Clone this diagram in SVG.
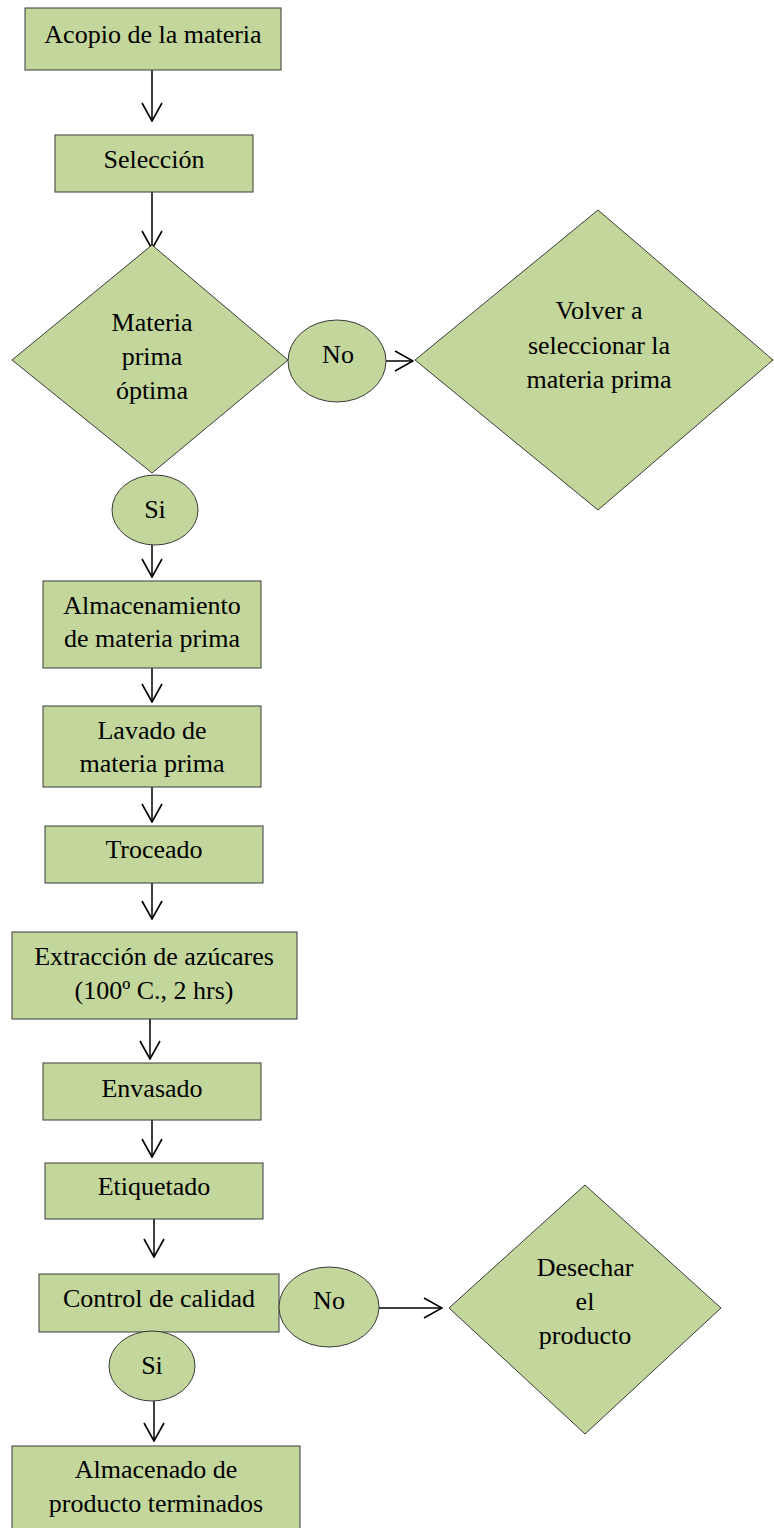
<svg xmlns="http://www.w3.org/2000/svg" width="774" height="1528" viewBox="0 0 774 1528">
<defs>
<style>
.n{fill:#C3D69B;stroke:#3a3a3a;stroke-width:1}
.t{font-family:'Liberation Serif','DejaVu Serif',serif;font-size:26px;fill:#000;text-anchor:middle}
.c{stroke:#000;stroke-width:1.5;fill:none}
</style>
<marker id="ah" viewBox="0 0 20 22" refX="19" refY="11" markerWidth="20" markerHeight="22" markerUnits="userSpaceOnUse" orient="auto">
<path d="M1,1 L19,11 L1,21" fill="none" stroke="#000" stroke-width="1.6"/>
</marker>
</defs>
<rect width="774" height="1528" fill="#fff"/>
<g id="connectors">
<line class="c" x1="152" y1="70" x2="152" y2="121" marker-end="url(#ah)"/>
<line class="c" x1="152" y1="192" x2="152" y2="249" marker-end="url(#ah)"/>
<line class="c" x1="386" y1="361" x2="413" y2="361" marker-end="url(#ah)"/>
<line class="c" x1="152" y1="545" x2="152" y2="577" marker-end="url(#ah)"/>
<line class="c" x1="152" y1="668" x2="152" y2="702" marker-end="url(#ah)"/>
<line class="c" x1="152" y1="787" x2="152" y2="822" marker-end="url(#ah)"/>
<line class="c" x1="152" y1="883" x2="152" y2="919" marker-end="url(#ah)"/>
<line class="c" x1="150" y1="1019" x2="150" y2="1059" marker-end="url(#ah)"/>
<line class="c" x1="152" y1="1120" x2="152" y2="1157" marker-end="url(#ah)"/>
<line class="c" x1="154" y1="1219" x2="154" y2="1257" marker-end="url(#ah)"/>
<line class="c" x1="379" y1="1308" x2="442" y2="1308" marker-end="url(#ah)"/>
<line class="c" x1="154" y1="1401" x2="154" y2="1441" marker-end="url(#ah)"/>
</g>
<g id="acopio">
<rect class="n" x="25" y="8" width="256" height="62"/>
<text class="t" x="153" y="43">Acopio de la materia</text>
</g>
<g id="seleccion">
<rect class="n" x="55" y="135" width="198" height="57"/>
<text class="t" x="154" y="168">Selección</text>
</g>
<g id="materia-optima">
<polygon class="n" points="152,245 288,360 152,473 12,360"/>
<text class="t" x="152" y="331">Materia</text>
<text class="t" x="152" y="365">prima</text>
<text class="t" x="152" y="399">óptima</text>
</g>
<g id="no1">
<ellipse class="n" cx="337" cy="361" rx="49" ry="41"/>
<text class="t" x="338" y="363">No</text>
</g>
<g id="volver">
<polygon class="n" points="598,210 773,360 598,510 415,360"/>
<text class="t" x="599" y="319">Volver a</text>
<text class="t" x="599" y="354">seleccionar la</text>
<text class="t" x="599" y="388">materia prima</text>
</g>
<g id="si1">
<ellipse class="n" cx="155" cy="510" rx="43" ry="35"/>
<text class="t" x="155" y="518">Si</text>
</g>
<g id="almacenamiento">
<rect class="n" x="43" y="581" width="218" height="87"/>
<text class="t" x="152" y="614">Almacenamiento</text>
<text class="t" x="152" y="647">de materia prima</text>
</g>
<g id="lavado">
<rect class="n" x="43" y="706" width="218" height="81"/>
<text class="t" x="152" y="739">Lavado de</text>
<text class="t" x="152" y="772">materia prima</text>
</g>
<g id="troceado">
<rect class="n" x="45" y="826" width="218" height="57"/>
<text class="t" x="154" y="858">Troceado</text>
</g>
<g id="extraccion">
<rect class="n" x="12" y="932" width="285" height="87"/>
<text class="t" x="154" y="965">Extracción de azúcares</text>
<text class="t" x="154" y="999">(100º C., 2 hrs)</text>
</g>
<g id="envasado">
<rect class="n" x="43" y="1063" width="218" height="57"/>
<text class="t" x="152" y="1097">Envasado</text>
</g>
<g id="etiquetado">
<rect class="n" x="45" y="1163" width="218" height="56"/>
<text class="t" x="154" y="1195">Etiquetado</text>
</g>
<g id="control">
<rect class="n" x="39" y="1274" width="240" height="58"/>
<text class="t" x="159" y="1307">Control de calidad</text>
</g>
<g id="no2">
<ellipse class="n" cx="329" cy="1307" rx="50" ry="40"/>
<text class="t" x="329" y="1309">No</text>
</g>
<g id="desechar">
<polygon class="n" points="585,1185 721,1308 585,1434 449,1308"/>
<text class="t" x="585" y="1276">Desechar</text>
<text class="t" x="585" y="1310">el</text>
<text class="t" x="585" y="1344">producto</text>
</g>
<g id="si2">
<ellipse class="n" cx="152" cy="1366" rx="43" ry="35"/>
<text class="t" x="152" y="1374">Si</text>
</g>
<g id="almacenado">
<rect class="n" x="12" y="1446" width="288" height="90"/>
<text class="t" x="156" y="1478">Almacenado de</text>
<text class="t" x="156" y="1512">producto terminados</text>
</g>
</svg>
